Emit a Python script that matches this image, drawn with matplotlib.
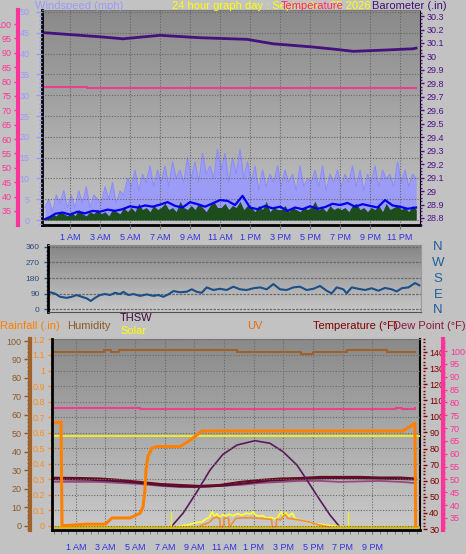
import numpy as np
import matplotlib
matplotlib.use("Agg")
import matplotlib.pyplot as plt
from matplotlib.colors import LinearSegmentedColormap
from matplotlib.ticker import MultipleLocator, FuncFormatter

plt.rcParams["font.family"] = ["Liberation Sans Narrow", "Liberation Sans", "DejaVu Sans"]

W, H = 466, 554
BG = "#c2c2c2"

# hour axis (hours after midnight)
hours = [1, 3, 5, 7, 9, 11, 13, 15, 17, 19, 21, 23]
hour_names = ["1 AM", "3 AM", "5 AM", "7 AM", "9 AM", "11 AM",
              "1 PM", "3 PM", "5 PM", "7 PM", "9 PM", "11 PM"]

# ---- wind (mph), 15 minute samples starting 23:20 the day before
wind_start, wind_step = -0.67, 0.25
gust = [3, 5, 2, 6, 4, 7, 3,
        6, 3, 7, 4, 8, 3, 6, 5,
        4, 8, 5, 9, 4, 7, 6, 10,
        8, 12, 7, 11, 9, 13, 8, 12,
        9, 13, 8, 14, 10, 12, 9, 15,
        10, 14, 9, 16, 11, 13, 10, 17,
        12, 16, 9, 15, 11, 17, 10, 14,
        9, 13, 7, 12, 8, 11, 9, 13,
        8, 12, 9, 11, 7, 13, 8, 10,
        9, 12, 8, 13, 7, 11, 9, 12,
        8, 11, 9, 13, 8, 12, 7, 11,
        9, 13, 8, 12, 10, 11, 8, 14,
        9, 12, 8, 11, 10]
wind = [0.3, 0.8, 1.5, 1, 2, 1.5, 1,
        2, 1, 2.5, 1.5, 1, 2, 1.5, 2.5,
        1.5, 2, 1, 2.5, 2, 1.5, 3, 2,
        3, 2, 4, 2.5, 3, 2, 3.5, 2.5,
        3, 4, 2.5, 3, 2, 4.5, 3, 2.5,
        3.5, 2.5, 4, 3, 2, 3.5, 4.5, 3,
        3, 4, 2.5, 3.5, 3, 4.5, 2.5, 3.5,
        3, 2, 3.5, 2.5, 4.5, 2, 3, 2.5,
        2.5, 3.5, 2, 3, 2.5, 2, 3, 2.5,
        3, 4.5, 2.5, 3, 2, 3.5, 2.5, 3,
        2.5, 3, 2, 3.5, 4, 2.5, 3, 2,
        3, 2.5, 3.5, 2, 4, 2.5, 3, 3.5,
        2.5, 3, 2, 3.5, 2.5]
avg_t = [-0.67, -0.3, 0, 0.5, 1, 1.5, 2, 2.5, 3, 3.5, 4, 4.5, 5, 5.5, 6, 6.5,
         7, 7.5, 8, 8.5, 9, 9.5, 10, 10.5, 11, 11.5, 12, 12.5, 13, 13.5, 14,
         14.5, 15, 15.5, 16, 16.5, 17, 17.5, 18, 18.5, 19, 19.5, 20, 20.5, 21,
         21.5, 22, 22.5, 23, 23.5, 24.07]
avg_wind = [0.2, 0.8, 1.5, 1.8, 1.3, 2.0, 1.6, 2.2, 2.0, 2.5, 2.2, 2.6, 3.3,
            3.0, 3.5, 3.2, 3.7, 4.3, 3.4, 3.0, 4.3, 3.8, 3.2, 4.0, 4.8, 4.6,
            3.6, 5.8, 3.0, 2.6, 3.4, 2.8, 3.2, 2.2, 3.0, 2.6, 3.3, 2.7, 3.1,
            3.9, 3.6, 4.1, 3.2, 3.8, 3.4, 3.0, 4.8, 3.5, 3.2, 2.7, 3.0]

# ---- barometer (in)
baro_t = [-0.67, 0.8, 3, 4.53, 7, 9.67, 12.8, 14.53, 17, 18.53, 19.87, 21.47, 23.87, 24.07]
baro = [30.176, 30.164, 30.146, 30.131, 30.157, 30.139, 30.127, 30.094, 30.072,
        30.055, 30.038, 30.045, 30.057, 30.062]

# ---- temperature (F) in top panel
temp_top_t = [-0.67, 2.1, 24.07]
temp_top = [78.1, 77.8, 77.8]

# ---- wind direction (deg)
dir_t = [-0.33, 0, 0.33, 0.78, 1.11, 1.44, 1.78, 2.11, 2.38, 2.67,
         3, 3.33, 3.67, 4, 4.33, 4.56, 4.89, 5.22, 5.67, 6.11,
         6.56, 6.89, 7.22, 7.56, 7.89, 8.33, 8.78, 9.11, 9.44, 9.78,
         10.11, 10.56, 11, 11.44, 11.89, 12.33, 12.78, 13.22, 13.67, 14.11,
         14.56, 15, 15.44, 15.89, 16.33, 16.78, 17.22, 17.67, 18.11, 18.44,
         18.78, 19.22, 19.44, 19.78, 20.22, 20.67, 21.11, 21.56, 22, 22.44,
         22.78, 23.11, 23.56, 24, 24.29]
dir_deg = [98, 90, 72, 66, 72, 82, 72, 63, 48, 66,
           82, 88, 82, 95, 88, 100, 82, 88, 77, 86,
           77, 82, 72, 86, 105, 98, 101, 115, 101, 95,
           126, 111, 118, 111, 130, 115, 111, 121, 126, 115,
           145, 115, 111, 126, 130, 111, 118, 134, 107, 92,
           126, 115, 92, 126, 118, 111, 121, 107, 123, 115,
           103, 121, 126, 151, 138]

# ---- bottom panel
hum_t = [-0.6, 2.9, 3.4, 3.9, 11.9, 14.0, 14.5, 16.2, 17.0, 19.3, 22.0, 23.9]
hum = [94.3, 95.4, 93.9, 95.4, 94.3, 93.8, 94.3, 92.8, 94.3, 95.4, 94.3, 94.3]

rain_t = [-0.6, 0.0, 0.07, 1.75, 3.0, 3.44, 4.65, 5.33, 5.53, 5.66, 5.73, 5.87,
          6.14, 6.47, 8.02, 8.7, 9.5, 23.06, 23.87, 23.92]
rain = [0.66, 0.67, 0.0, 0.01, 0.01, 0.05, 0.05, 0.08, 0.12, 0.23, 0.36, 0.45,
        0.50, 0.51, 0.51, 0.55, 0.61, 0.61, 0.66, 0.0]

temp_t = [-0.6, 1.3, 2.6, 4, 5.3, 6.7, 8, 9.4, 10.7, 12.1, 13.4, 14.8, 16.1,
          17.5, 18.8, 20.2, 21.5, 22.9, 23.9]
temp = [61.9, 61.7, 61.4, 60.5, 59.3, 58, 57.4, 56.8, 57.4, 59.3, 60.5, 61.4,
        61.7, 62.4, 62.4, 62.4, 62, 62, 61.4]
dew = [59.4, 59.3, 59.3, 58.6, 58, 56.8, 56.1, 56.1, 56.8, 57.4, 58.6, 59.3,
       59.9, 59.9, 59.3, 59.6, 59.9, 59.3, 58.6]
thsw_t = [-0.6, 2, 4, 6, 7, 8, 9, 10, 11, 12, 13, 14, 16, 18, 20, 22, 23.9]
thsw = [61, 60.6, 59.6, 58, 57, 56.5, 56.2, 56.5, 57, 58, 59, 60, 61, 61.6, 61.6, 61.2, 60.8]

temp_bot_t = [-0.6, 5.3, 22.2, 22.6, 23.0, 23.9]
temp_bot = [77.9, 77.4, 77.4, 77.8, 77.6, 77.8]

solar_max_t = [7.42, 8.23, 9.17, 10.05, 10.92, 11.87, 13.08, 14.09, 14.97,
               15.91, 16.66, 17.46, 18.14, 18.81]
solar_max = [0, 134, 344, 555, 708, 799, 841, 816, 734, 604, 441, 263, 117, 0]
solar_t = [7.4, 8.0, 8.5, 8.8, 9.2, 9.5, 9.8, 10.0, 10.2, 10.35, 10.5, 10.7,
           10.9, 11.1, 11.3, 11.6, 11.9, 12.2, 12.5, 12.8, 12.95, 13.1, 13.3,
           13.6, 13.9, 14.1, 14.4, 14.6, 14.85, 15.0, 15.15, 15.35, 15.6, 15.8,
           16.1, 16.4, 16.8, 17.2, 17.6, 18.0, 18.5, 19.0, 19.3]
solar = [0, 5, 20, 30, 45, 50, 80, 95, 150, 100, 130, 95, 120, 105, 125, 110,
         130, 115, 135, 125, 150, 120, 105, 110, 85, 95, 80, 90, 150, 100, 140,
         105, 135, 80, 70, 55, 40, 30, 25, 15, 8, 3, 0]
solar_ref = 887
sun_events = [7.42, 19.35]
sun_mark = 146

uv_t = [9.4, 10.0, 10.3, 10.5, 10.7, 10.75, 10.95, 11.0, 11.3, 11.35, 11.8,
        12.3, 12.8, 13.4, 13.9, 14.2, 14.25, 14.5, 14.55, 14.8, 15.1, 15.3,
        15.6, 16.1, 16.8, 17.5, 18.1]
uv = [0.1, 0.4, 0.8, 0.85, 0.75, 0.0, 0.0, 0.8, 0.75, 0.0, 0.75, 0.8, 0.8,
      0.75, 0.7, 0.65, 0.0, 0.0, 0.7, 0.6, 1.1, 0.75, 0.7, 0.6, 0.4, 0.15, 0.0]


def px_rect(x0, y0, x1, y1):
    return [x0 / W, 1 - y1 / H, (x1 - x0) / W, (y1 - y0) / H]


def shade(ax, top, bottom):
    cmap = LinearSegmentedColormap.from_list("shade", [bottom, top])
    ax.imshow(np.linspace(0, 1, 64).reshape(-1, 1), cmap=cmap, origin="lower",
              aspect="auto", extent=[0, 1, 0, 1], transform=ax.transAxes, zorder=0)


def num(v, pos):
    return f"{round(v, 2):g}"


def yticks(ax, color, major, minor, length=3, pad=2, size=6.5):
    ax.yaxis.set_major_locator(MultipleLocator(major))
    ax.yaxis.set_minor_locator(MultipleLocator(minor))
    ax.yaxis.set_major_formatter(FuncFormatter(num))
    ax.tick_params(axis="y", which="both", colors=color, labelsize=size, pad=pad)
    ax.tick_params(axis="y", which="major", length=length, width=1)
    ax.tick_params(axis="y", which="minor", length=length * 0.6, width=1)


def clean_twin(ax):
    for s in ax.spines.values():
        s.set_visible(False)


fig = plt.figure(figsize=(W / 100, H / 100), dpi=100, facecolor=BG)

# ================= top panel: wind / temperature / barometer =================
ax_w = fig.add_axes(px_rect(42, 10, 420, 225))
shade(ax_w, "#8a8a8a", "#c4c4c4")
ax_w.set_xlim(-0.87, 24.33)
ax_w.set_ylim(-1.2, 50.48)
ax_w.set_xticks(hours, hour_names)
ax_w.tick_params(axis="x", colors="#707070", labelcolor="#3030e0", labelsize=6.5,
                 length=3, pad=3)
yticks(ax_w, "#9a9aff", 5, 1, length=4, pad=5)
ax_w.grid(True, color="#666666", lw=0.8, ls=(0, (1, 1.5)))
ax_w.set_axisbelow(False)
for side in ["left", "bottom"]:
    ax_w.spines[side].set_color("black")
    ax_w.spines[side].set_linewidth(2)
ax_w.spines["right"].set_color("black")
ax_w.spines["top"].set_color("#7a7a7a")

t_wind = wind_start + wind_step * np.arange(len(gust))
ax_w.fill_between(t_wind, gust, 0, color="#9c9cf6", lw=0, zorder=2)
ax_w.plot(t_wind, gust, color="#8c8cff", lw=0.8, zorder=2)
ax_w.fill_between(t_wind, wind, 0, color="#1d4d1d", lw=0, zorder=3)
ax_w.plot(avg_t, avg_wind, color="#0000ee", lw=1.6, zorder=4)

ax_t = ax_w.twinx()
clean_twin(ax_t)
ax_t.yaxis.tick_left()
ax_t.spines["left"].set_visible(True)
ax_t.spines["left"].set_position(("axes", -0.0635))
ax_t.spines["left"].set_color("#ff3399")
ax_t.spines["left"].set_linewidth(3)
ax_t.set_ylim(30.1, 104.9)
yticks(ax_t, "#ff3399", 5, 1, length=3, pad=1.5)
ax_t.plot(temp_top_t, temp_top, color="#e8408c", lw=1.5, drawstyle="steps-post")

ax_b = ax_w.twinx()
clean_twin(ax_b)
ax_b.set_ylim(28.748, 30.345)
yticks(ax_b, "#50108a", 0.1, 0.025, length=3, pad=2)
ax_b.plot(baro_t, baro, color="#44117f", lw=2)

fig.text(35 / W, 1 - 6 / H, "Windspeed (mph)", color="#9a9aff", fontsize=8, va="center")
fig.text(172 / W, 1 - 6 / H, "24 hour graph day : September 25 2026", color="#ffff00",
         fontsize=8, va="center")
fig.text(281 / W, 1 - 6 / H, "Temperature", color="#ff1a8c", fontsize=8, va="center")
fig.text(372 / W, 1 - 6 / H, "Barometer (.in)", color="#40107a", fontsize=8, va="center")

# ================= wind direction panel =================
ax_d = fig.add_axes(px_rect(48, 245, 421, 312))
shade(ax_d, "#868686", "#c8c8c8")
ax_d.set_xlim(-0.47, 24.4)
ax_d.set_ylim(-15.5, 369.8)
ax_d.set_xticks([])
yticks(ax_d, "#2c4c7c", 90, 22.5, length=3, pad=3, size=6)
ax_d.set_yticks([0, 90, 180, 270, 360])
ax_d.grid(True, axis="y", color="#6a6a6a", lw=0.9, ls=(0, (2, 1)))
ax_d.spines["left"].set_color("black")
ax_d.spines["left"].set_linewidth(2)
ax_d.spines["bottom"].set_color("#505050")
ax_d.spines["top"].set_color("#8a8a8a")
ax_d.spines["right"].set_color("#9a9a9a")
ax_d.plot(dir_t, dir_deg, color="#1a4f8a", lw=1.5)
for lab, yy in zip(["N", "W", "S", "E", "N"], [247, 263, 279, 295, 310]):
    fig.text(438 / W, 1 - yy / H, lab, color="#1f5f9f", fontsize=9.5, ha="center", va="center")

# ================= bottom panel =================
ax_h = fig.add_axes(px_rect(52, 339, 420, 530))
shade(ax_h, "#8a8a8a", "#cacaca")
ax_h.set_xlim(-0.607, 24.21)
ax_h.set_ylim(-2.33, 101.1)
ax_h.set_xticks(hours[:-1], hour_names[:-1])
ax_h.xaxis.set_minor_locator(MultipleLocator(0.5))
ax_h.tick_params(axis="x", which="both", colors="#707070", labelcolor="#3030e0",
                 labelsize=6.5, length=3, pad=6)
ax_h.grid(True, axis="x", color="#6a6a6a", lw=0.8, ls=(0, (1, 1.5)))
yticks(ax_h, "#8b5a2b", 10, 2, length=4, pad=2)
ax_h.spines["left"].set_position(("axes", -0.0598))
ax_h.spines["left"].set_color("#a0622d")
ax_h.spines["left"].set_linewidth(3)
ax_h.spines["bottom"].set_color("black")
ax_h.spines["bottom"].set_linewidth(2)
ax_h.spines["right"].set_color("black")
ax_h.spines["right"].set_linewidth(1.5)
ax_h.spines["top"].set_color("#7a7a7a")
ax_h.step(hum_t, hum, where="post", color="#a0602a", lw=1.5)

ax_tp = ax_h.twinx()
clean_twin(ax_tp)
ax_tp.spines["right"].set_position(("axes", 1.0082))
ax_tp.set_ylim(29.4, 148.1)
yticks(ax_tp, "#800000", 10, 2, length=3, pad=1.5)
ax_tp.plot(temp_t, dew, color="#9a4a7a", lw=1.3)
ax_tp.plot(thsw_t, thsw, color="#4a1040", lw=1.4)
ax_tp.plot(temp_t, temp, color="#6a0a1a", lw=1.5)

ax_dp = ax_h.twinx()
clean_twin(ax_dp)
ax_dp.spines["right"].set_visible(True)
ax_dp.spines["right"].set_position(("axes", 1.0625))
ax_dp.spines["right"].set_color("#ff3399")
ax_dp.spines["right"].set_linewidth(3)
ax_dp.set_ylim(30.3, 104.7)
yticks(ax_dp, "#ff3399", 5, 1, length=3, pad=2)
ax_dp.plot(temp_bot_t, temp_bot, color="#e8408c", lw=1.5, drawstyle="steps-post")

ax_s = ax_h.twinx()
clean_twin(ax_s)
ax_s.set_ylim(-29.2, 1832)
ax_s.set_yticks([])
ax_s.axhline(solar_ref, color="#f0f020", lw=1.3)
ax_s.plot(solar_max_t, solar_max, color="#5a1a5a", lw=1.2)
ax_s.vlines(sun_events, 0, sun_mark, color="#f0f020", lw=1)
ax_s.plot(solar_t, solar, color="#ffff30", lw=1.2)

ax_uv = ax_h.twinx()
clean_twin(ax_uv)
ax_uv.set_ylim(-0.26, 16.3)
ax_uv.set_yticks([])
ax_uv.plot(uv_t, uv, color="#f09030", lw=1.2)

ax_r = ax_h.twinx()
clean_twin(ax_r)
ax_r.yaxis.tick_left()
ax_r.spines["left"].set_visible(True)
ax_r.spines["left"].set_color("black")
ax_r.spines["left"].set_linewidth(2)
ax_r.set_ylim(-0.0276, 1.203)
yticks(ax_r, "#ff8c1a", 0.1, 0.05, length=3, pad=2)
ax_r.grid(True, axis="y", color="#6a6a6a", lw=0.8, ls=(0, (1, 1.5)))
ax_r.plot(rain_t, rain, color="#ff8000", lw=2.2)
ax_s.axhline(0, color="#d8b800", lw=1.8)

fig.text(0 / W, 1 - 326 / H, "Rainfall (.in)", color="#ff8000", fontsize=8, va="center")
fig.text(67 / W, 1 - 326 / H, "Humidity", color="#8b5a2b", fontsize=8, va="center")
fig.text(120 / W, 1 - 318 / H, "THSW", color="#400840", fontsize=8, va="center")
fig.text(120 / W, 1 - 331 / H, "Solar", color="#ffff00", fontsize=8, va="center")
fig.text(247 / W, 1 - 326 / H, "UV", color="#e07010", fontsize=8, va="center")
fig.text(313 / W, 1 - 326 / H, "Temperature (\u00b0F)", color="#800000", fontsize=8, va="center")
fig.text(393 / W, 1 - 326 / H, "Dew Point (\u00b0F)", color="#8b1a3a", fontsize=8, va="center")

fig.savefig("out.png", dpi=100, facecolor=BG)
